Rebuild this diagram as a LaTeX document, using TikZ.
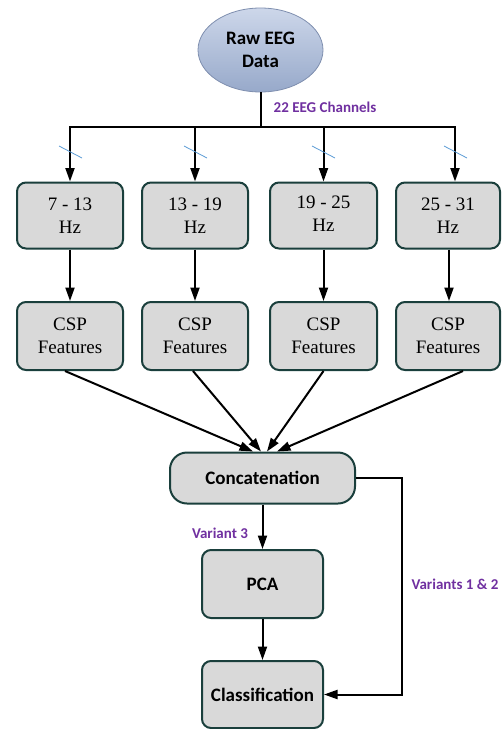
\documentclass[tikz,border=0pt]{standalone}
\usepackage{fontspec}
\setmainfont{Liberation Serif}
\newfontfamily\calib{Carlito}
\usetikzlibrary{arrows.meta,shapes.geometric}
\definecolor{boxfill}{HTML}{D9D9D9}
\definecolor{boxedge}{HTML}{1A3F3C}
\definecolor{purp}{HTML}{7030A0}
\definecolor{slashc}{HTML}{5B9BD5}
\definecolor{elltop}{HTML}{CDD7EA}
\definecolor{ellbot}{HTML}{97A9CA}
\definecolor{elledge}{HTML}{7F8FAF}
\begin{document}
\begin{tikzpicture}[x=1pt,y=-1pt,
 box/.style={draw=boxedge, line width=2pt, fill=boxfill, rounded corners=9pt, minimum width=106pt, minimum height=66pt, inner sep=0pt, align=center, font=\fontsize{19}{23}\selectfont},
 cbox/.style={box, font=\calib\bfseries\fontsize{19}{22}\selectfont},
 arr/.style={line width=2pt, -{Triangle[length=13.5pt,width=9pt]}},
 lab/.style={text=purp, font=\calib\bfseries\fontsize{15}{17}\selectfont, inner sep=0pt},
 slashline/.style={draw=slashc, line width=0.8pt}]
\useasboundingbox (0,0) rectangle (502,729);

\node[ellipse, draw=elledge, line width=0.8pt, top color=elltop, bottom color=ellbot,
      minimum width=125pt, minimum height=84pt, inner sep=0pt, align=center,
      font=\calib\bfseries\fontsize{19}{23}\selectfont] (raw) at (260.5,50) {Raw EEG\\Data};

\node[box] (h1) at (70,215.5) {7 - 13\\Hz};
\node[box] (h2) at (195,215.5) {13 - 19\\Hz};
\node[box, minimum width=107pt] (h3) at (323.5,215.5) {\raisebox{5pt}{\begin{tabular}{@{}c@{}}19 - 25\\Hz\end{tabular}}};
\node[box, minimum width=104pt] (h4) at (448,215.5) {25 - 31\\Hz};

\node[box, minimum height=68pt] (c1) at (70,336) {CSP\\Features};
\node[box, minimum height=68pt] (c2) at (195,336) {CSP\\Features};
\node[box, minimum height=68pt, minimum width=107pt] (c3) at (323.5,336) {CSP\\Features};
\node[box, minimum height=68pt, minimum width=104pt] (c4) at (448,336) {CSP\\Features};

\node[cbox, minimum width=185pt, minimum height=51pt, rounded corners=17pt] (cat) at (262.5,478) {Concatenation};
\node[cbox, minimum width=121pt, minimum height=68pt] (pca) at (262.5,584) {PCA};
\node[cbox, minimum width=121pt, minimum height=67pt] (cls) at (262.5,694.5) {Classification};

\coordinate (j) at (260.5,127);
\draw[line width=2pt] (raw.south) -- (j);
\draw[arr] (j) -| (h1.north);
\draw[arr] (j) -| (h2.north);
\draw[arr] (j) -| (h3.north);
\draw[arr] (j) -| ([xshift=7pt]h4.north);

\draw[slashline] (59,146) -- (82,158);
\draw[slashline] (184,146) -- (207,158);
\draw[slashline] (312,146) -- (335,158);
\draw[slashline] (444,146) -- (467,158);

\node[lab] (l22) at (325,107) {22 EEG Channels};

\draw[arr] (h1) -- (c1);
\draw[arr] (h2) -- (c2);
\draw[arr] (h3) -- (c3);
\draw[arr] ([xshift=1pt]h4.south) -- ([xshift=1pt]c4.north);

\draw[arr] ([xshift=-5pt]c1.south) -- ([xshift=-9.5pt]cat.north);
\draw[arr] ([xshift=-2pt]c2.south) -- ([xshift=-1.5pt]cat.north);
\draw[arr] (c3.south) -- ([xshift=4.5pt]cat.north);
\draw[arr] ([xshift=15pt]c4.south) -- ([xshift=14.5pt]cat.north);

\draw[arr] (cat) -- (pca);
\draw[arr] (pca) -- (cls);
\coordinate (lp) at (402,478);
\draw[arr] (cat.east) -- (lp) |- (cls.east);

\node[lab] (lv3) at (220,533) {Variant 3};
\node[lab] (lv12) at (455,584) {Variants 1 \& 2};
\end{tikzpicture}
\end{document}
